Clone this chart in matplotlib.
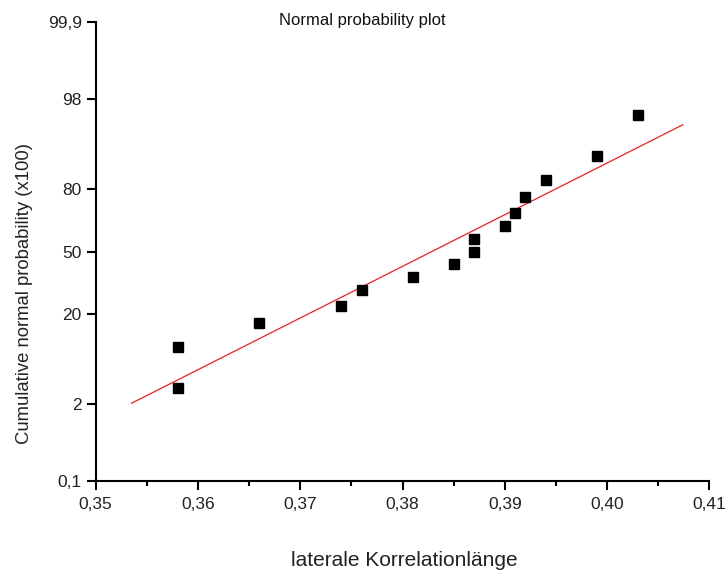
import numpy as np
import matplotlib
matplotlib.use("Agg")
import matplotlib.pyplot as plt
from matplotlib.ticker import FixedLocator, MultipleLocator
from statistics import NormalDist

# ---- data ----
x_values = [0.358, 0.358, 0.366, 0.374, 0.376, 0.381, 0.385, 0.387, 0.387,
            0.390, 0.391, 0.392, 0.394, 0.399, 0.403]
cum_prob = [3.3, 10.0, 16.7, 23.3, 30.0, 36.7, 43.3, 50.0, 56.7,
            63.3, 70.0, 76.7, 83.3, 90.0, 96.7]
fit_x = [0.3535, 0.4074]
fit_prob = [2.05, 95.6]
y_ticks = [0.1, 2, 20, 50, 80, 98, 99.9]
y_tick_labels = ["0,1", "2", "20", "50", "80", "98", "99,9"]
x_ticks = [0.35, 0.36, 0.37, 0.38, 0.39, 0.40, 0.41]
x_tick_labels = ["0,35", "0,36", "0,37", "0,38", "0,39", "0,40", "0,41"]

_nd = NormalDist()
_ppf = np.vectorize(lambda p: _nd.inv_cdf(min(max(p / 100.0, 1e-9), 1 - 1e-9)),
                    otypes=[float])
_cdf = np.vectorize(lambda z: _nd.cdf(z) * 100.0, otypes=[float])


def forward(p):
    return _ppf(np.asarray(p, dtype=float))


def inverse(z):
    return _cdf(np.asarray(z, dtype=float))


plt.rcParams['font.family'] = ['Liberation Sans', 'DejaVu Sans']

fig = plt.figure(figsize=(7.25, 5.76), dpi=100)
ax = fig.add_axes([95.7 / 725, 1 - 481 / 576, (709.3 - 95.7) / 725, (481 - 22) / 576])

ax.set_yscale('function', functions=(forward, inverse))

ax.plot(fit_x, fit_prob, color='#e8202a', lw=0.9, zorder=2)
ax.plot(x_values, cum_prob, linestyle='none', marker='s', markersize=7,
        color='black', zorder=3)

ax.set_xlim(0.35, 0.41)
ax.set_ylim(0.1, 99.9)

ax.yaxis.set_major_locator(FixedLocator(y_ticks))
ax.yaxis.set_minor_locator(FixedLocator([]))
ax.set_yticklabels(y_tick_labels)
ax.set_xticks(x_ticks)
ax.set_xticklabels(x_tick_labels)
ax.xaxis.set_minor_locator(MultipleLocator(0.005))

for s in ['top', 'right']:
    ax.spines[s].set_visible(False)
for s in ['left', 'bottom']:
    ax.spines[s].set_linewidth(1.5)

ax.tick_params(axis='both', which='major', direction='out', length=6.5,
               width=1.5, labelsize=12.5, colors='black', labelcolor='#222222')
ax.tick_params(axis='x', which='major', pad=5)
ax.tick_params(axis='y', which='major', pad=3.5)
ax.tick_params(axis='x', which='minor', direction='out', length=3.5, width=1.5)

fig.text(0.5, 1 - 20 / 576, "Normal probability plot", ha='center', va='center',
         fontsize=12, color='#111111')
fig.text(25 / 725, 1 - 294 / 576, "Cumulative normal probability (x100)",
         rotation=90, ha='center', va='center', fontsize=13.3, color='#222222')
fig.text(404 / 725, 1 - 561 / 576, "laterale Korrelationlänge", ha='center',
         va='center', fontsize=15, color='#222222')

fig.savefig("out.png", dpi=100, facecolor='white')
